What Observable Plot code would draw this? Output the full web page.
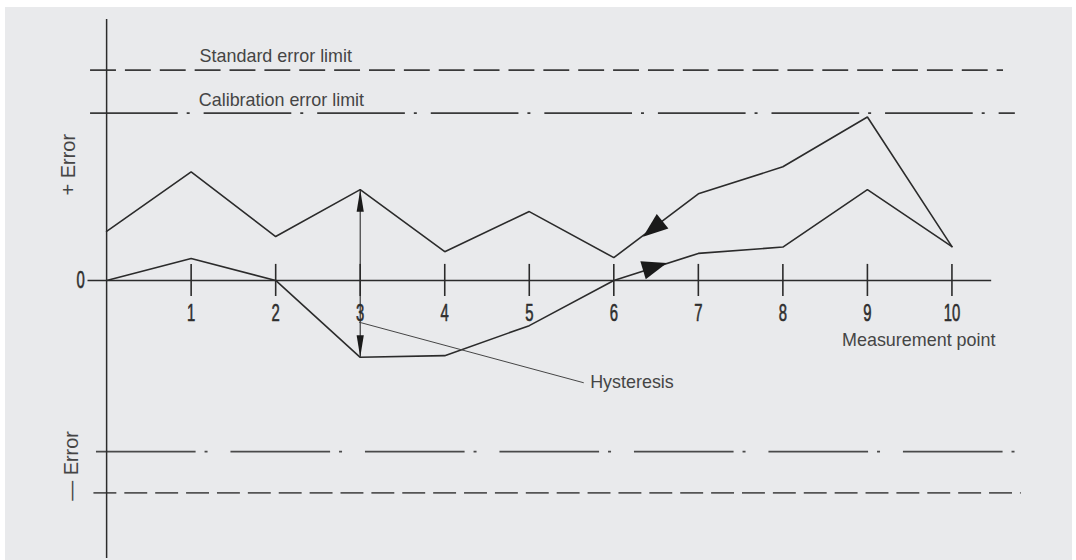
<!DOCTYPE html>
<html>
<head>
<meta charset="utf-8">
<script src="https://cdn.jsdelivr.net/npm/d3@7"></script>
<script src="https://cdn.jsdelivr.net/npm/@observablehq/plot@0.6"></script>
<style>
  html, body { margin: 0; padding: 0; background: #ffffff; }
  #panel { position: absolute; left: 5px; top: 7px; width: 1067px; height: 553px; background: #e9eaec; overflow: hidden; }
  #chart { position: absolute; left: -5px; top: -7px; }
</style>
</head>
<body>
<div id="panel"><div id="chart"></div></div>
<script>
// ---- data ----
const points = [0, 1, 2, 3, 4, 5, 6, 7, 8, 9, 10];
const tickLabels = ["1", "2", "3", "4", "5", "6", "7", "8", "9", "10"];
const upperCurve = [1.16, 2.57, 1.04, 2.15, 0.68, 1.63, 0.54, 2.05, 2.69, 3.87, 0.80];
const lowerCurve = [0, 0.52, 0, -1.82, -1.78, -1.07, 0, 0.64, 0.79, 2.15, 0.80];

const limitLabels = ["Standard error limit", "Calibration error limit"];
const limitPlus = [4.98, 3.96];
const limitMinus = [-5.03, -4.05];

const hysteresisPoint = 3;          // measurement point of the double arrow
const hysteresisLeader = [[2.99, -0.99], [5.64, -2.42]];

// ---- layout ----
const W = 1076, H = 560;
const xDomain = [0, 10], yDomain = [-6.58, 6.627];
const ink = "#2b2b2b", textInk = "#454545";

function arrowSymbol(lenK, widK) {
  return {
    draw(ctx, size) {
      const r = Math.sqrt(size / Math.PI);
      const L = lenK * r, w = widK * r;
      ctx.moveTo(0, -2 * L / 3);
      ctx.lineTo(w, L / 3);
      ctx.lineTo(-w, L / 3);
      ctx.closePath();
    }
  };
}

const upperData = points.map((p, i) => ({x: p, y: upperCurve[i]}));
const lowerData = points.map((p, i) => ({x: p, y: lowerCurve[i]}));
const tickData = points.slice(1).map((p, i) => ({x: p, label: tickLabels[i]}));

const limitRules = [
  {y: limitPlus[0], x1: -0.19, x2: 10.61, dash: "26,9", color: "#3a3a3a"},
  {y: limitPlus[1], x1: -0.19, x2: 10.75, dash: "88,9,3,14", color: "#3a3a3a"},
  {y: limitMinus[1], x1: -0.12, x2: 10.80, dash: "100,9,3,23", color: "#4a4a4a"},
  {y: limitMinus[0], x1: -0.15, x2: 10.82, dash: "23,8", color: "#555555"}
];

const flowArrows = [
  {x: 6.50, y: 1.28, rot: 231.5},
  {x: 6.44, y: 0.30, rot: 73.3}
];
const hystArrows = [
  {x: hysteresisPoint, y: 1.80, rot: 0},
  {x: hysteresisPoint, y: -1.47, rot: 180}
];

const labels = [
  {x: 1.10, y: 5.30, text: limitLabels[0]},
  {x: 1.09, y: 4.27, text: limitLabels[1]},
  {x: 8.70, y: -1.42, text: "Measurement point"},
  {x: 5.72, y: -2.41, text: "Hysteresis"}
];

const sansFont = "'Liberation Sans', Arial, Helvetica, sans-serif";

const chart = Plot.plot({
  width: W,
  height: H,
  marginLeft: 106.5,
  marginRight: 121,
  marginTop: 0,
  marginBottom: 0,
  style: {background: "transparent", fontFamily: sansFont},
  x: {domain: xDomain, axis: null},
  y: {domain: yDomain, axis: null},
  marks: [
    // limit lines
    ...limitRules.map(r => Plot.ruleY([r.y], {x1: r.x1, x2: r.x2, stroke: r.color, strokeWidth: 1.7, strokeDasharray: r.dash})),
    // axes
    Plot.ruleY([0], {x1: -0.22, x2: 10.47, stroke: ink, strokeWidth: 1.5}),
    Plot.ruleX([0], {y1: 6.18, y2: yDomain[0], stroke: ink, strokeWidth: 1.5}),
    Plot.ruleX(tickData, {x: "x", y1: -0.38, y2: 0.38, stroke: ink, strokeWidth: 1.6}),
    Plot.text(tickData, {x: "x", y: 0, dy: 33, text: "label", fontSize: 23.5, fill: "#2e2e2e", stroke: "#2e2e2e", strokeWidth: 0.6}),
    Plot.text(["0"], {x: 0, y: 0, dx: -26, text: d => d, fontSize: 23.5, fill: "#2e2e2e", stroke: "#2e2e2e", strokeWidth: 0.6}),
    // curves
    Plot.line(upperData, {x: "x", y: "y", stroke: ink, strokeWidth: 1.6, strokeLinejoin: "miter"}),
    Plot.line(lowerData, {x: "x", y: "y", stroke: ink, strokeWidth: 1.6, strokeLinejoin: "miter"}),
    // direction arrows
    Plot.dot(flowArrows, {x: "x", y: "y", rotate: "rot", r: 10, symbol: arrowSymbol(2.5, 0.94), fill: "#1a1a1a", stroke: "none"}),
    // hysteresis double arrow
    Plot.ruleX([hysteresisPoint], {y1: upperCurve[hysteresisPoint], y2: lowerCurve[hysteresisPoint], stroke: ink, strokeWidth: 1.1}),
    Plot.dot(hystArrows, {x: "x", y: "y", rotate: "rot", r: 8, symbol: arrowSymbol(2.75, 0.45), fill: "#1a1a1a", stroke: "none"}),
    Plot.line(hysteresisLeader, {x: d => d[0], y: d => d[1], stroke: "#444", strokeWidth: 1}),
    // text labels
    Plot.text(labels, {x: "x", y: "y", text: "text", textAnchor: "start", fontSize: 18, fill: textInk}),
    Plot.text(["+ Error"], {x: -0.45, y: 2.74, text: d => d, rotate: -90, fontSize: 20, fill: textInk}),
    Plot.text(["— Error"], {x: -0.41, y: -4.39, text: d => d, rotate: -90, fontSize: 20, fill: textInk})
  ]
});

// condensed, tall digits like the original drawing's lettering
const digitSet = new Set(["0", ...tickLabels]);
d3.select(chart).selectAll("text")
  .filter(function () { return digitSet.has(this.textContent.trim()); })
  .attr("textLength", function () { return 8.3 * this.textContent.trim().length; })
  .attr("lengthAdjust", "spacingAndGlyphs");

document.getElementById("chart").appendChild(chart);
</script>
</body>
</html>
